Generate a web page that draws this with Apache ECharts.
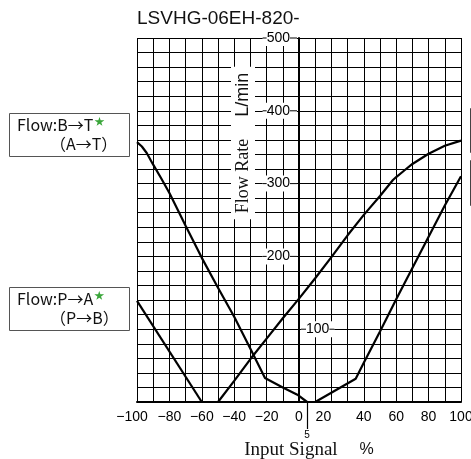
<!DOCTYPE html>
<html>
<head>
<meta charset="utf-8">
<script src="https://cdn.jsdelivr.net/npm/echarts@6/dist/echarts.min.js"></script>
<style>
  html, body { margin: 0; padding: 0; background: #fff; }
  #chart { width: 471px; height: 459px; }
</style>
</head>
<body>
<div id="chart"></div>
<script>
// tick labels
const signalTicks = [-100, -80, -60, -40, -20, 0, 20, 40, 60, 80, 100];
const flowTicksLeft = [200, 300, 400, 500];
const flowTicksRight = [100];
const markTick = [5];

// curves: [input signal %, flow L/min]
const flowBT_A = [[-100, 357], [-97, 351], [-94, 342], [-90, 326], [-85, 307], [-80, 287], [-70, 242], [-60, 198], [-50, 157], [-40, 117], [-30, 73], [-21, 33], [-10, 20], [-1, 10], [5, 0]];
const flowBT_B = [[-50, 0], [-40, 29], [-30, 59], [-20, 87], [-10, 115], [0, 142], [10, 170], [20, 199], [30, 229], [40, 257], [50, 283], [58, 305], [60, 309], [65, 318], [70, 327], [80, 341], [90, 352], [100, 359]];
const flowPA_A = [[-100, 139], [-60, 0]];
const flowPA_B = [[10, 0], [35, 32], [40, 54], [50, 97], [60, 141], [70, 184], [80, 227], [90, 270], [100, 310]];

const SANS = 'Liberation Sans';
const JP = 'Noto Sans CJK JP';
const SERIF = 'Liberation Serif';

const GRID_LEFT = 137;
const GRID_RIGHT = 10;
const GRID_W = 471 - GRID_LEFT - GRID_RIGHT;
// y axis sits on signal = 0, in the middle of the plot
const zeroOffset = -GRID_W / 2;

const chart = echarts.init(document.getElementById('chart'));

const lineSeries = (name, data) => ({
  name: name,
  type: 'line',
  data: data,
  symbol: 'none',
  silent: true,
  z: 3,
  lineStyle: { color: '#000', width: 2.2 }
});

const signalLabel = (v) => {
  const s = v < 0 ? '\u2212' + (-v) : String(v);
  if (v === 20) return '{l|' + s + '}';
  if (v === -100) return '{m|' + s + '}';
  return '{n|' + s + '}';
};

const tickText = { fontFamily: SANS, fontSize: 14, color: '#000' };

const box = (top, line1, line2) => ({
  type: 'group',
  children: [
    { type: 'rect', shape: { x: 9.5, y: top + 0.5, width: 120, height: 43 }, style: { fill: '#fff', stroke: '#555', lineWidth: 1 } },
    {
      type: 'text', x: 17, y: top + 12,
      style: {
        text: '{t|' + line1 + '}{s|★}', verticalAlign: 'middle',
        rich: {
          t: { fontFamily: JP, fontSize: 16, fill: '#111' },
          s: { fontFamily: JP, fontSize: 10, fill: '#3aa63a', padding: [0, 0, 8, 1] }
        }
      }
    },
    { type: 'text', x: 50, y: top + 30.5, style: { text: line2, fontFamily: JP, fontSize: 16, fill: '#111', verticalAlign: 'middle' } }
  ]
});

const option = {
  animation: false,
  grid: { left: GRID_LEFT, right: GRID_RIGHT, top: 38, bottom: 57, containLabel: false, outerBoundsMode: 'none' },
  xAxis: [
    {
      type: 'value', position: 'bottom', min: -100, max: 100, interval: 10,
      axisLine: { onZero: false, lineStyle: { color: '#000', width: 2 } },
      axisTick: { show: false },
      splitLine: { lineStyle: { color: '#000', width: 1 } },
      axisLabel: {
        customValues: signalTicks, margin: 8, formatter: signalLabel,
        rich: {
          n: tickText,
          l: Object.assign({ padding: [0, 16, 0, 0] }, tickText),
          m: Object.assign({ padding: [0, 10, 0, 0] }, tickText)
        }
      }
    },
    {
      type: 'value', position: 'bottom', min: -100, max: 100,
      axisLine: { show: false, onZero: false },
      splitLine: { show: false },
      axisTick: { show: true, customValues: markTick, length: 27, lineStyle: { color: '#000', width: 1.2 } },
      axisLabel: { customValues: markTick, margin: 28, fontFamily: SANS, fontSize: 10, color: '#000' }
    }
  ],
  yAxis: [
    {
      type: 'value', position: 'left', offset: zeroOffset, min: 0, max: 500, interval: 20,
      axisLine: { show: true, onZero: false, lineStyle: { color: '#000', width: 2 } },
      axisTick: { show: false },
      splitLine: { lineStyle: { color: '#000', width: 1 } },
      axisLabel: {
        customValues: flowTicksLeft, margin: 2, backgroundColor: '#fff', padding: [1, 0],
        formatter: (v) => '{d|}{v|' + v + '}{e|}',
        rich: {
          v: tickText,
          d: { width: 4, height: 1, backgroundColor: '#000' },
          e: { width: 7, height: 1, backgroundColor: '#000' }
        }
      }
    },
    {
      type: 'value', position: 'left', offset: zeroOffset, min: 0, max: 500,
      axisLine: { show: false, onZero: false },
      axisTick: { show: false },
      splitLine: { show: false },
      axisLabel: {
        inside: true, customValues: flowTicksRight, margin: 2, backgroundColor: '#fff', padding: [1, 0],
        formatter: (v) => '{d|}{v|' + v + '}{d|}',
        rich: {
          v: tickText,
          d: { width: 5, height: 1, backgroundColor: '#000' }
        }
      }
    }
  ],
  graphic: [
    { type: 'text', x: 137, y: 19, style: { text: 'LSVHG-06EH-820-', fontFamily: SANS, fontSize: 19, fill: '#111', verticalAlign: 'middle' } },
    {
      type: 'text', x: 243, y: 143, rotation: Math.PI / 2, z: 5,
      style: {
        text: '{a|Flow Rate}{g| }{b|L/min}', align: 'center', verticalAlign: 'middle',
        backgroundColor: '#fff', padding: [3, 6],
        rich: {
          a: { fontFamily: SERIF, fontSize: 18, fill: '#111' },
          g: { width: 22 },
          b: { fontFamily: SANS, fontSize: 18, fill: '#111' }
        }
      }
    },
    {
      type: 'text', x: 309, y: 450,
      style: {
        text: '{a|Input Signal}{g| }{b|%}', align: 'center', verticalAlign: 'middle',
        rich: {
          a: { fontFamily: SERIF, fontSize: 19, fill: '#111' },
          g: { width: 22 },
          b: { fontFamily: SANS, fontSize: 16, fill: '#111' }
        }
      }
    },
    box(113, 'Flow:B→T', '（A→T）'),
    box(287, 'Flow:P→A', '（P→B）'),
    { type: 'rect', shape: { x: 470.5, y: 108.5, width: 40, height: 44 }, style: { fill: '#fff', stroke: '#444', lineWidth: 1 } },
    { type: 'rect', shape: { x: 470.5, y: 160.5, width: 40, height: 45 }, style: { fill: '#fff', stroke: '#444', lineWidth: 1 } }
  ],
  series: [
    lineSeries('B→T (A)', flowBT_A),
    lineSeries('B→T (B)', flowBT_B),
    lineSeries('P→A (A)', flowPA_A),
    lineSeries('P→A (B)', flowPA_B)
  ]
};

chart.setOption(option);
</script>
</body>
</html>
